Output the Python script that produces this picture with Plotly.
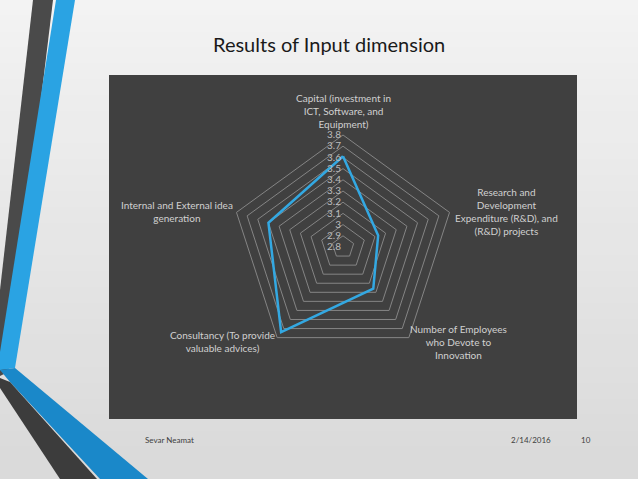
import plotly.graph_objects as go

W, H = 638, 479

categories = [
    "Capital (investment in<br>ICT, Software, and<br>Equipment)",
    "Research and<br>Development<br>Expenditure (R&D), and<br>(R&D) projects",
    "Number of Employees<br>who Devote to<br>Innovation",
    "Consultancy (To provide<br>valuable advices)",
    "Internal and External idea<br>generation",
]
values = [3.61, 3.13, 3.26, 3.74, 3.50]
radial_ticks = [2.8, 2.9, 3.0, 3.1, 3.2, 3.3, 3.4, 3.5, 3.6, 3.7, 3.8]
radial_ticktext = ["2.8", "2.9", "3", "3.1", "3.2", "3.3", "3.4", "3.5", "3.6", "3.7", "3.8"]
title_text = "Results of Input dimension"
footer_left = "Sevar Neamat"
footer_date = "2/14/2016"
footer_page = "10"

# label centres (pixels) for category labels
label_pos = [(343, 111), (506, 211), (458, 342), (222, 341), (177, 211)]


def px(x, y):
    return f"{x / W:.5f},{1 - y / H:.5f}"


def poly(pts):
    return "M " + " L ".join(px(x, y) for x, y in pts) + " Z"


shapes = []
n = 30
for i in range(n):
    t = i / (n - 1)
    c = int(243 - t * (243 - 218))
    shapes.append(dict(type="rect", xref="paper", yref="paper", x0=0, x1=1,
                       y0=1 - (i + 1) / n, y1=1 - i / n + 0.001,
                       fillcolor=f"rgb({c},{c},{c})", line=dict(width=0), layer="below"))
shapes.append(dict(type="rect", xref="paper", yref="paper",
                   x0=109 / W, x1=577 / W, y0=1 - 419 / H, y1=1 - 75 / H,
                   fillcolor="#404040", line=dict(width=0), layer="below"))
shapes.append(dict(type="path", xref="paper", yref="paper", layer="below",
                   path=poly([(33, 0), (53, 0), (8, 372), (0, 376), (0, 290)]),
                   fillcolor="#4a4a4a", line=dict(width=0)))
shapes.append(dict(type="path", xref="paper", yref="paper", layer="below",
                   path=poly([(56, 0), (75, 0), (15, 368), (0, 370), (0, 352)]),
                   fillcolor="#2aa3e3", line=dict(width=0)))
shapes.append(dict(type="path", xref="paper", yref="paper", layer="below",
                   path=poly([(0, 370), (15, 368), (148, 479), (100, 479), (10, 382)]),
                   fillcolor="#1a88c9", line=dict(width=0)))
shapes.append(dict(type="path", xref="paper", yref="paper", layer="below",
                   path=poly([(0, 378), (10, 382), (97, 479), (60, 479), (0, 388)]),
                   fillcolor="#3c3c3c", line=dict(width=0)))

cx, cy, R = 343, 247, 112

fig = go.Figure()
fig.add_trace(go.Scatterpolar(
    r=values + [values[0]],
    theta=categories + [categories[0]],
    mode="lines",
    line=dict(color="#33a8e2", width=2.5),
    hoverinfo="skip",
))

annotations = [
    dict(text=title_text, xref="paper", yref="paper", x=329 / W, y=1 - 44 / H,
         showarrow=False, font=dict(family="Lato", size=20, color="#1a1a1a"),
         xanchor="center", yanchor="middle"),
    dict(text=footer_left, xref="paper", yref="paper", x=143 / W, y=1 - 440 / H,
         showarrow=False, font=dict(family="Lato", size=8, color="#404040"),
         xanchor="left", yanchor="middle"),
    dict(text=footer_date, xref="paper", yref="paper", x=553 / W, y=1 - 440 / H,
         showarrow=False, font=dict(family="Lato", size=8, color="#404040"),
         xanchor="right", yanchor="middle"),
    dict(text=footer_page, xref="paper", yref="paper", x=593 / W, y=1 - 440 / H,
         showarrow=False, font=dict(family="Lato", size=8, color="#404040"),
         xanchor="right", yanchor="middle"),
]
for cat, (lx, ly) in zip(categories, label_pos):
    annotations.append(dict(text=cat, xref="paper", yref="paper", x=lx / W, y=1 - ly / H,
                            showarrow=False, align="center", xanchor="center", yanchor="middle",
                            font=dict(family="Lato", size=10, color="#d0d0d0")))

fig.update_layout(
    width=W, height=H,
    margin=dict(l=0, r=0, t=0, b=0),
    paper_bgcolor="#e9e9e9",
    showlegend=False,
    shapes=shapes,
    polar=dict(
        domain=dict(x=[(cx - R) / W, (cx + R) / W], y=[1 - (cy + R) / H, 1 - (cy - R) / H]),
        bgcolor="rgba(0,0,0,0)",
        gridshape="linear",
        radialaxis=dict(
            range=[2.8, 3.8], tickvals=radial_ticks, ticktext=radial_ticktext,
            angle=90, tickangle=90, side="counterclockwise",
            showline=False, ticks="", gridcolor="#858585", gridwidth=1,
            tickfont=dict(family="Lato", size=10, color="#bdbdbd"),
        ),
        angularaxis=dict(
            rotation=90, direction="clockwise", showgrid=False, showticklabels=False,
            linecolor="#858585", linewidth=1, ticks="",
        ),
    ),
    annotations=annotations,
)

fig.write_html("out.html", config={"displayModeBar": False},
               post_script="document.body.style.margin='0';document.body.style.overflow='hidden';")
